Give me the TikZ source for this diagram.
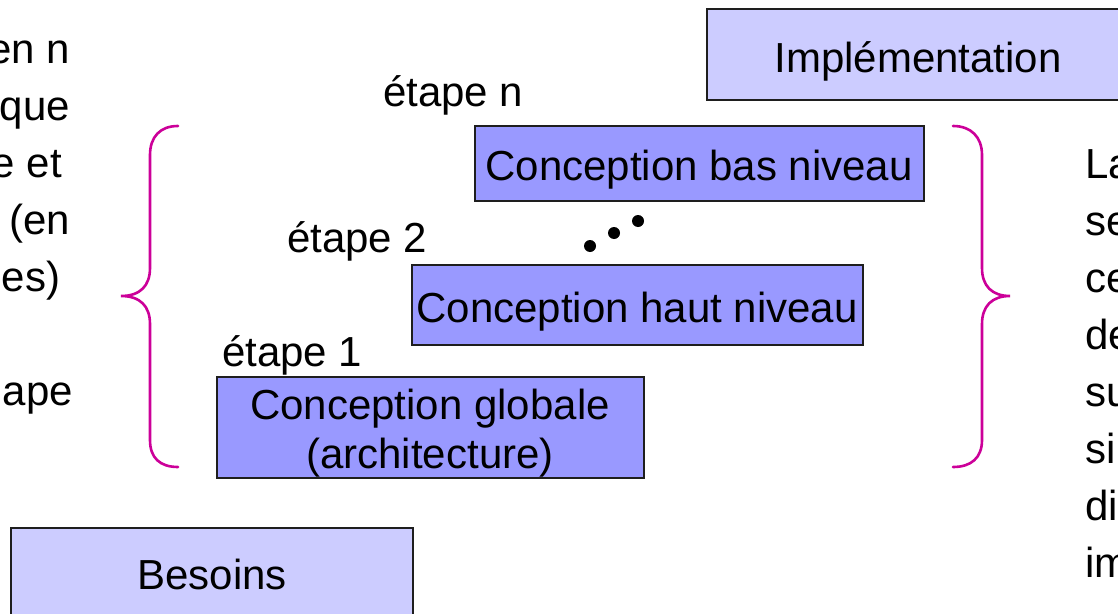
\documentclass[tikz,border=0pt]{standalone}
\usepackage{fontspec}
\setmainfont{Liberation Sans}
\definecolor{stagefill}{HTML}{9999FF}
\definecolor{endfill}{HTML}{CCCCFF}
\definecolor{bracecol}{HTML}{CC0099}
\definecolor{edgecol}{RGB}{30,30,30}
\begin{document}
\begin{tikzpicture}[x=1pt,y=-1pt,
  every node/.style={font=\fontsize{42}{49}\selectfont, inner sep=0pt, outer sep=0pt},
  stagebox/.style={draw=edgecol, line width=2pt, fill=stagefill, rectangle},
  endbox/.style={draw=edgecol, line width=2pt, fill=endfill, rectangle},
  txt/.style={anchor=base},
  brace/.style={draw=bracecol, line width=2.6pt, line cap=round},
  dot/.style={circle, fill=black, minimum size=12pt}
]
\useasboundingbox (0,0) rectangle (1118,613);
\clip (0,0) rectangle (1118,613);
\fill[white] (0,0) rectangle (1118,613);

% end-point boxes
\node[endbox, minimum width=422pt, minimum height=91pt] (impl) at (918,54.5) {};
\node[txt] (impltxt) at (918,72) {Implémentation};
\node[endbox, minimum width=402pt, minimum height=91pt] (bes) at (212,573.5) {};
\node[txt] (bestxt) at (212,589) {Besoins};

% design stages
\node[stagebox, minimum width=427pt, minimum height=101pt] (glob) at (430.5,427.5) {};
\node[txt] (globa) at (430,419) {Conception globale};
\node[txt] (globb) at (430,468) {(architecture)};
\node[stagebox, minimum width=451pt, minimum height=80pt] (haut) at (637.5,305) {};
\node[txt] (hauttxt) at (637,322) {Conception haut niveau};
\node[stagebox, minimum width=449pt, minimum height=75pt] (bas) at (699.5,163.5) {};
\node[txt] (bastxt) at (699,180) {Conception bas niveau};

% stage labels
\node[anchor=base west] (e1) at (222,366) {étape 1};
\node[anchor=base west] (e2) at (287,252) {étape 2};
\node[anchor=base west] (en) at (383,106) {étape n};

% ellipsis dots
\node[dot] (d1) at (590,246) {};
\node[dot] (d2) at (614,233) {};
\node[dot] (d3) at (638,221) {};

% braces
\draw[brace] (178,126) .. controls (160,126) and (150,137) .. (150,155)
  -- (150,268) .. controls (150,286) and (140,296) .. (121,296)
  .. controls (140,296) and (150,306) .. (150,324)
  -- (150,440) .. controls (150,458) and (160,467) .. (178,467);
\draw[brace] (953,126) .. controls (971,126) and (982,137) .. (982,155)
  -- (982,268) .. controls (982,286) and (992,296) .. (1010,296)
  .. controls (992,296) and (982,306) .. (982,324)
  -- (982,440) .. controls (982,458) and (971,467) .. (953,467);

% paragraph on the left
\node[anchor=base east] (l1) at (70,63) {en n};
\node[anchor=base east] (l2) at (70,120) {que};
\node[anchor=base east] (l3) at (62,177) {e et};
\node[anchor=base east] (l4) at (70,234) {(en};
\node[anchor=base east] (l5) at (60,291) {es)};
\node[anchor=base east] (l6) at (73,405) {ape};

% paragraph on the right
\node[anchor=base west] (r1) at (1085,178) {La};
\node[anchor=base west] (r2) at (1085,235) {se};
\node[anchor=base west] (r3) at (1085,292) {ce};
\node[anchor=base west] (r4) at (1085,349) {de};
\node[anchor=base west] (r5) at (1085,406) {su};
\node[anchor=base west] (r6) at (1085,463) {si};
\node[anchor=base west] (r7) at (1085,520) {di};
\node[anchor=base west] (r8) at (1085,577) {im};
\end{tikzpicture}
\end{document}
